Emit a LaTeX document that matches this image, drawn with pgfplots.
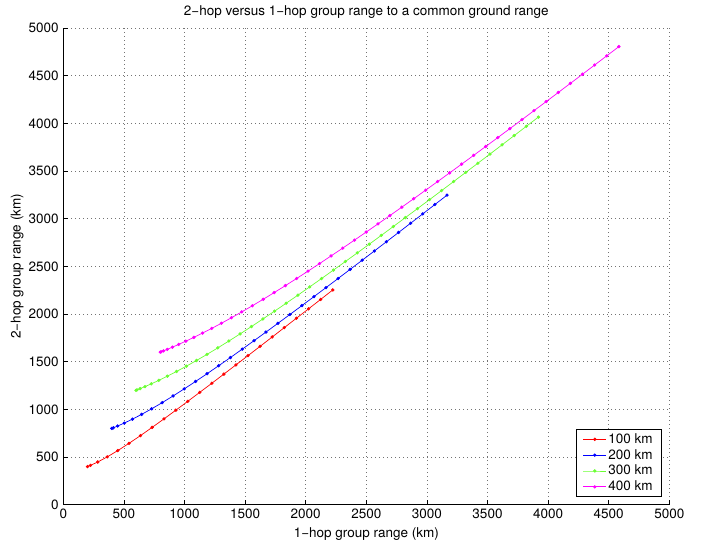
\documentclass[border=0pt]{standalone}
\usepackage{fontspec}
\setmainfont{TeX Gyre Heros}
\usepackage{pgfplots}
\pgfplotsset{compat=1.18}
\definecolor{mred}{rgb}{1,0,0}
\definecolor{mblue}{rgb}{0,0,1}
\definecolor{mgreen}{rgb}{0.42,1,0.2}
\definecolor{mmag}{rgb}{1,0,1}
\begin{document}
\fontsize{13.5bp}{16bp}\selectfont
\begin{tikzpicture}
\path[use as bounding box] (-63.3bp,-39.3bp) rectangle (640.7bp,504.7bp);
\begin{axis}[
  scale only axis, width=606bp, height=476.7bp,
  at={(0,0)}, anchor=south west,
  xmin=0, xmax=5000, ymin=0, ymax=5000,
  xtick={0,500,...,5000}, ytick={0,500,...,5000},
  axis x line=bottom, axis y line=left,
  axis line style={-, black, line width=0.6bp},
  tick align=inside, major tick length=5bp,
  tick style={black, line width=0.6bp},
  grid=major,
  major grid style={black!55, line width=0.5bp, dash pattern=on 0.5bp off 3.5bp},
  font=\fontsize{13.5bp}{16bp}\selectfont,
  /pgf/number format/assume math mode=true,
  /pgf/number format/1000 sep={},
  every axis title shift=0pt,
  title={2−hop versus 1−hop group range to a common ground range},
  title style={at={(axis description cs:0.5,1.034)}, anchor=center},
  xlabel={1−hop group range (km)},
  xlabel style={at={(axis description cs:0.5,-0.061)}, anchor=center},
  ylabel={2−hop group range (km)},
  ylabel style={at={(axis description cs:-0.076,0.5)}, anchor=center, rotate=0},
  every axis plot/.append style={line width=0.7bp, mark=*, mark size=1.3bp},
  legend cell align=left,
  legend style={at={(axis description cs:0.988,0.016)}, anchor=south east,
    draw=black, line width=0.6bp, fill=white, row sep=0bp, inner xsep=7bp, inner ysep=2bp,
    font=\fontsize{13.5bp}{16bp}\selectfont},
  legend image code/.code={\draw[mark repeat=2,mark phase=2,#1] plot coordinates {(0cm,0cm) (0.4cm,0cm) (0.8cm,0cm)};},
]
\addplot[color=mred, mark options={fill=mred}] coordinates {
(200,400) (224,412.5) (284,447.9) (362.5,501.4) (450,567.9) (542.1,643.4) (636.9,725) (733.2,811) (830.6,900) (928.6,991.3) (1027.2,1084.2) (1126.2,1178.5) (1225.4,1273.7) (1324.8,1369.7) (1424.3,1466.4) (1524,1563.5) (1623.8,1661.1) (1723.7,1759.1) (1823.6,1857.3) (1923.5,1955.8) (2023.5,2054.4) (2123.5,2153.3) (2223.4,2252.3)
};
\addlegendentry{100 km}
\addplot[color=mblue, mark options={fill=mblue}] coordinates {
(400,800) (412.7,806.4) (448.6,825.4) (502.8,856) (570.1,897.2) (646.4,947.5) (728.9,1005.6) (815.6,1070.2) (905.5,1140.2) (997.5,1214.6) (1091.3,1292.8) (1186.3,1374) (1282.2,1457.7) (1379,1543.6) (1476.3,1631.3) (1574.2,1720.5) (1672.4,1810.9) (1771,1902.5) (1869.8,1995.1) (1968.9,2088.4) (2068.1,2182.5) (2167.5,2277.3) (2267.1,2372.5) (2366.7,2468.3) (2466.4,2564.5) (2566.2,2661) (2666.1,2757.9) (2766,2855.1) (2865.9,2952.6) (2965.9,3050.4) (3065.9,3148.3) (3165.9,3246.5)
};
\addlegendentry{200 km}
\addplot[color=mgreen, mark options={fill=mgreen}] coordinates {
(600,1200) (608.7,1204.4) (633.9,1217.3) (674,1238.6) (726.3,1267.9) (788.5,1304.5) (858.4,1347.9) (934.3,1397.5) (1014.9,1452.6) (1099,1512.6) (1186,1577) (1275.2,1645.2) (1366.3,1716.8) (1458.8,1791.4) (1552.5,1868.6) (1647.2,1948.1) (1742.7,2029.7) (1838.9,2113.1) (1935.7,2198) (2033,2284.4) (2130.7,2372) (2228.7,2460.7) (2327.1,2550.4) (2425.7,2641.1) (2524.6,2732.5) (2623.6,2824.7) (2722.8,2917.6) (2822.2,3011) (2921.7,3105) (3021.3,3199.5) (3121,3294.4) (3220.7,3389.7) (3320.5,3485.4) (3420.4,3581.5) (3520.3,3677.8) (3620.3,3774.5) (3720.2,3871.4) (3820.2,3968.6) (3920.2,4065.9)
};
\addlegendentry{300 km}
\addplot[color=mmag, mark options={fill=mmag}] coordinates {
(800,1600) (806.6,1603.3) (826.1,1613.2) (857.7,1629.6) (900,1652.3) (951.7,1681) (1011.2,1715.4) (1077.3,1755.2) (1148.9,1800) (1224.9,1849.5) (1304.7,1903.3) (1387.5,1961.1) (1472.8,2022.4) (1560.3,2087) (1649.5,2154.7) (1740.3,2225) (1832.3,2297.8) (1925.3,2372.8) (2019.3,2449.9) (2114.1,2528.8) (2209.6,2609.4) (2305.7,2691.5) (2402.3,2775) (2499.4,2859.8) (2596.8,2945.7) (2694.7,3032.7) (2792.8,3120.6) (2891.2,3209.4) (2989.8,3299.1) (3088.6,3389.5) (3187.6,3480.5) (3286.8,3572.2) (3386.1,3664.5) (3485.6,3757.3) (3585.1,3850.7) (3684.7,3944.5) (3784.5,4038.7) (3884.2,4133.3) (3984.1,4228.3) (4084,4323.6) (4183.9,4419.2) (4283.9,4515.2) (4383.8,4611.4) (4483.8,4707.9) (4583.8,4804.6)
};
\addlegendentry{400 km}
\end{axis}
\end{tikzpicture}
\end{document}
